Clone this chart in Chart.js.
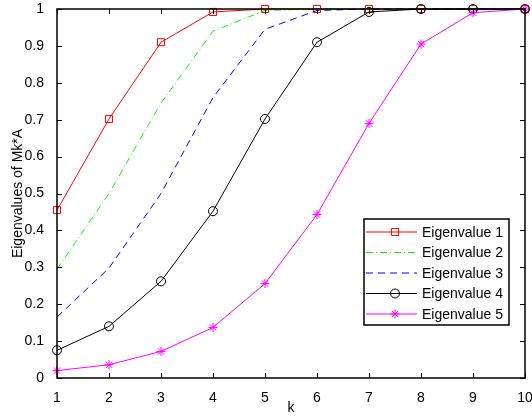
<!DOCTYPE html>
<html lang="en">
<head>
<meta charset="UTF-8">
<title>Eigenvalues of Mk*A</title>
<script src="https://cdn.jsdelivr.net/npm/chart.js"></script>
<style>
  html, body { margin: 0; padding: 0; background: #fff; }
  #wrap { width: 532px; height: 419px; }
</style>
</head>
<body>
<div id="wrap"><canvas id="eigChart" width="532" height="419"></canvas></div>
<script>
// data
const kValues = [1, 2, 3, 4, 5, 6, 7, 8, 9, 10];
const eig1 = [0.455, 0.702, 0.910, 0.992, 1.0, 1.0, 1.0, 1.0, 1.0, 1.0];
const eig2 = [0.295, 0.500, 0.745, 0.940, 0.996, 1.0, 1.0, 1.0, 1.0, 1.0];
const eig3 = [0.165, 0.298, 0.500, 0.760, 0.945, 0.996, 1.0, 1.0, 1.0, 1.0];
const eig4 = [0.075, 0.140, 0.262, 0.452, 0.702, 0.910, 0.992, 1.0, 1.0, 1.0];
const eig5 = [0.020, 0.036, 0.072, 0.137, 0.256, 0.443, 0.690, 0.905, 0.990, 1.0];
const seriesNames = ['Eigenvalue 1', 'Eigenvalue 2', 'Eigenvalue 3', 'Eigenvalue 4', 'Eigenvalue 5'];
const yTicks = [0, 0.1, 0.2, 0.3, 0.4, 0.5, 0.6, 0.7, 0.8, 0.9, 1];
const yTickLabels = ['0', '0.1', '0.2', '0.3', '0.4', '0.5', '0.6', '0.7', '0.8', '0.9', '1'];

const FONT = "'Liberation Sans', Arial, Helvetica, sans-serif";

const styles = [
  { color: '#ff0000', dash: [], marker: 'rect', r: 5 },
  { color: '#00ff00', dash: [7, 3, 1, 3], marker: false, r: 0 },
  { color: '#0000ff', dash: [7, 5], marker: false, r: 0 },
  { color: '#000000', dash: [], marker: 'circle', r: 4.5 },
  { color: '#ff00ff', dash: [], marker: 'star', r: 4.5 }
];

const allSeries = [eig1, eig2, eig3, eig4, eig5];

const datasets = allSeries.map((vals, i) => ({
  label: seriesNames[i],
  data: vals.map((v, j) => ({ x: kValues[j], y: v })),
  borderColor: styles[i].color,
  borderWidth: 1,
  borderDash: styles[i].dash,
  pointStyle: styles[i].marker || 'circle',
  pointRadius: styles[i].r,
  pointBorderColor: styles[i].color,
  pointBackgroundColor: 'rgba(0,0,0,0)',
  pointBorderWidth: 1,
  tension: 0,
  fill: false,
  clip: 8,
  order: 5 - i
}));

function drawMarker(ctx, type, x, y, r, color) {
  ctx.save();
  ctx.strokeStyle = color;
  ctx.lineWidth = 1;
  ctx.setLineDash([]);
  ctx.beginPath();
  if (type === 'rect') {
    const s = r * Math.SQRT1_2;
    ctx.rect(x - s, y - s, 2 * s, 2 * s);
  } else if (type === 'circle') {
    ctx.arc(x, y, r, 0, Math.PI * 2);
  } else if (type === 'star') {
    const d = r * Math.SQRT1_2;
    ctx.moveTo(x - r, y); ctx.lineTo(x + r, y);
    ctx.moveTo(x, y - r); ctx.lineTo(x, y + r);
    ctx.moveTo(x - d, y - d); ctx.lineTo(x + d, y + d);
    ctx.moveTo(x - d, y + d); ctx.lineTo(x + d, y - d);
  }
  ctx.stroke();
  ctx.restore();
}

// box, inward ticks and legend in the matlab style
const matlabFrame = {
  id: 'matlabFrame',
  afterDraw(chart) {
    const ctx = chart.ctx;
    const a = chart.chartArea;
    const xs = chart.scales.x, ys = chart.scales.y;
    ctx.save();
    ctx.strokeStyle = '#000';
    ctx.lineWidth = 1;
    ctx.beginPath();
    kValues.forEach(k => {
      const px = Math.round(xs.getPixelForValue(k)) + 0.5;
      ctx.moveTo(px, a.bottom); ctx.lineTo(px, a.bottom - 5);
      ctx.moveTo(px, a.top); ctx.lineTo(px, a.top + 5);
    });
    yTicks.forEach(t => {
      const py = Math.round(ys.getPixelForValue(t)) + 0.5;
      ctx.moveTo(a.left, py); ctx.lineTo(a.left + 5, py);
      ctx.moveTo(a.right, py); ctx.lineTo(a.right - 5, py);
    });
    ctx.stroke();
    ctx.lineWidth = 1.5;
    ctx.strokeRect(a.left, a.top, a.right - a.left, a.bottom - a.top);

    // legend
    const lx = 364, ly = 219, lw = 145, lh = 106;
    ctx.fillStyle = '#fff';
    ctx.fillRect(lx, ly, lw, lh);
    ctx.lineWidth = 1.5;
    ctx.strokeRect(lx, ly, lw, lh);
    ctx.font = '14px ' + FONT;
    ctx.textBaseline = 'middle';
    ctx.textAlign = 'left';
    seriesNames.forEach((name, i) => {
      const y = ly + 13 + i * 20.5;
      const st = styles[i];
      ctx.save();
      ctx.strokeStyle = st.color;
      ctx.lineWidth = 1;
      ctx.setLineDash(st.dash);
      ctx.beginPath();
      ctx.moveTo(lx + 2, y); ctx.lineTo(lx + 53, y);
      ctx.stroke();
      ctx.restore();
      if (st.marker) drawMarker(ctx, st.marker, lx + 31, y, st.r, st.color);
      ctx.fillStyle = '#000';
      ctx.fillText(name, lx + 58, y + 1);
    });
    ctx.restore();
  }
};

new Chart(document.getElementById('eigChart'), {
  type: 'line',
  data: { datasets: datasets },
  options: {
    responsive: false,
    animation: false,
    devicePixelRatio: 1,
    layout: { padding: { top: 9, right: 7, left: 0, bottom: 0 } },
    plugins: { legend: { display: false }, tooltip: { enabled: false } },
    scales: {
      x: {
        type: 'linear',
        min: 1, max: 10,
        grid: { display: false },
        border: { display: false },
        ticks: { stepSize: 1, padding: 4, color: '#000', font: { family: FONT, size: 14 }, maxRotation: 0 },
        title: { display: true, text: 'k', color: '#000', font: { family: FONT, size: 14 }, padding: { top: 0, bottom: 2 } },
        afterFit(scale) { scale.height = 41; scale.paddingLeft = 0; scale.paddingRight = 0; }
      },
      y: {
        type: 'linear',
        min: 0, max: 1,
        grid: { display: false },
        border: { display: false },
        afterBuildTicks(scale) { scale.ticks = yTicks.map(v => ({ value: v })); },
        ticks: {
          padding: 5, color: '#000', font: { family: FONT, size: 14 },
          callback: (v) => yTickLabels[yTicks.findIndex(t => Math.abs(t - v) < 1e-6)]
        },
        title: { display: true, text: 'Eigenvalues of Mk*A', color: '#000', font: { family: FONT, size: 14 }, padding: { top: 10, bottom: 0 } },
        afterFit(scale) { scale.width = 57; scale.paddingTop = 0; scale.paddingBottom = 0; }
      }
    }
  },
  plugins: [matlabFrame]
});
</script>
</body>
</html>
